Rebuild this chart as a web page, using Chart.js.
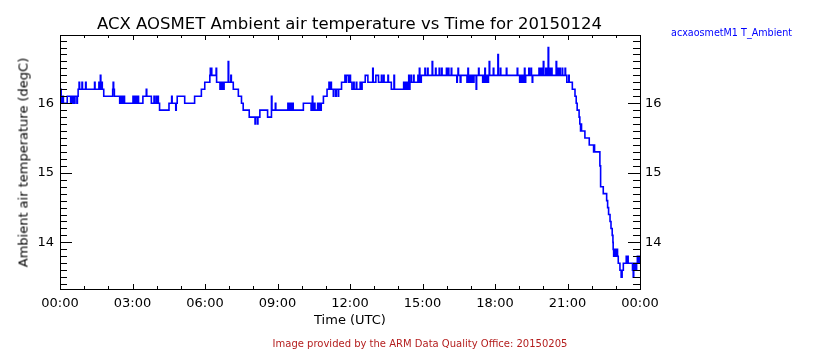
<!DOCTYPE html>
<html>
<head>
<meta charset="utf-8">
<title>ACX AOSMET Ambient air temperature vs Time for 20150124</title>
<script src="https://cdn.jsdelivr.net/npm/chart.js@4.4.1/dist/chart.umd.min.js"></script>
<style>
  body { margin: 0; background: #fff; }
  #wrap { position: relative; width: 840px; height: 350px; font-family: 'DejaVu Sans', sans-serif; }
  #wrap .txt { position: absolute; white-space: nowrap; line-height: 1; }
  #title { left: 0; width: 699px; top: 16px; text-align: center; font-size: 16.5px; color: #000; }
  #series { left: 671px; top: 27.5px; font-size: 9.6px; color: #0000ff; }
  #xtitle { left: 0; width: 700px; top: 312.5px; text-align: center; font-size: 13px; color: #000; }
  #ytitle { left: -87.5px; top: 155.5px; width: 220px; height: 13px; text-align: center; font-size: 13px; color: #000; transform: rotate(-90deg); }
  #footer { left: 0; width: 840px; top: 338.5px; text-align: center; font-size: 10px; color: #b41e1e; }
</style>
</head>
<body>
<div id="wrap">
  <canvas id="chart" width="840" height="350"></canvas>
  <div class="txt" id="title">ACX AOSMET Ambient air temperature vs Time for 20150124</div>
  <div class="txt" id="series">acxaosmetM1 T_Ambient</div>
  <div class="txt" id="xtitle">Time (UTC)</div>
  <div class="txt" id="ytitle">Ambient air temperature (degC)</div>
  <div class="txt" id="footer">Image provided by the ARM Data Quality Office: 20150205</div>
</div>
<script>
// Axis ticks and labels
const hourTicks = [0, 3, 6, 9, 12, 15, 18, 21, 24];
const hourLabels = ['00:00', '03:00', '06:00', '09:00', '12:00', '15:00', '18:00', '21:00', '00:00'];
const tempTicks = [14, 15, 16];
const yMin = 13.33;
const yMax = 16.98;

// T_Ambient, [hour UTC, degC] at each change of the stepped trace
const night = [
  [0.00, 16.2], [0.05, 16.1], [0.07, 16.0], [0.12, 16.1], [0.14, 16.0], [0.30, 16.1], [0.44, 16.0], [0.46, 16.1],
  [0.48, 16.0], [0.50, 16.1], [0.52, 16.0], [0.54, 16.1], [0.56, 16.0], [0.58, 16.1], [0.60, 16.0], [0.62, 16.1],
  [0.70, 16.0], [0.72, 16.1], [0.75, 16.2], [0.79, 16.3], [0.81, 16.2], [0.91, 16.3], [0.93, 16.2], [1.06, 16.3],
  [1.08, 16.2], [1.43, 16.3], [1.45, 16.2], [1.61, 16.3], [1.63, 16.2], [1.65, 16.3], [1.67, 16.4], [1.69, 16.3],
  [1.71, 16.2], [1.73, 16.3], [1.75, 16.2], [1.81, 16.1], [2.18, 16.2], [2.20, 16.3], [2.22, 16.2], [2.25, 16.1],
  [2.47, 16.0], [2.50, 16.1], [2.52, 16.0], [2.55, 16.1], [2.57, 16.0], [2.60, 16.1], [2.62, 16.0], [2.65, 16.1],
  [2.67, 16.0], [3.02, 16.1], [3.04, 16.0], [3.07, 16.1], [3.09, 16.0], [3.12, 16.1], [3.14, 16.0], [3.18, 16.1],
  [3.20, 16.0], [3.23, 16.1], [3.25, 16.0], [3.43, 16.1], [3.57, 16.2], [3.59, 16.1], [3.78, 16.0], [3.89, 16.1],
  [3.91, 16.0], [3.98, 16.1], [4.00, 16.0], [4.05, 16.1], [4.07, 16.0], [4.12, 15.9], [4.51, 16.0], [4.62, 16.1],
  [4.64, 16.0], [4.79, 15.9], [4.81, 16.0], [4.85, 16.1], [5.16, 16.0], [5.57, 16.1], [5.85, 16.2], [5.99, 16.3]
];

const morning = [
  [6.20, 16.4], [6.22, 16.5], [6.24, 16.4], [6.26, 16.5], [6.28, 16.4], [6.46, 16.5], [6.48, 16.3], [6.62, 16.2],
  [6.64, 16.3], [6.66, 16.2], [6.69, 16.3], [6.71, 16.2], [6.74, 16.3], [6.76, 16.2], [6.79, 16.3], [6.96, 16.6],
  [6.98, 16.3], [7.07, 16.4], [7.09, 16.3], [7.17, 16.2], [7.38, 16.1], [7.51, 16.0], [7.58, 15.9], [7.83, 15.8],
  [8.07, 15.7], [8.09, 15.8], [8.17, 15.7], [8.19, 15.8], [8.27, 15.9], [8.59, 15.8], [8.75, 16.1], [8.77, 15.9],
  [8.91, 16.0], [8.93, 15.9], [9.43, 16.0], [9.45, 15.9], [9.47, 16.0], [9.50, 15.9], [9.52, 16.0], [9.55, 15.9],
  [9.57, 16.0], [9.60, 15.9], [9.62, 16.0], [9.65, 15.9], [10.07, 16.0], [10.39, 15.9], [10.44, 16.1], [10.46, 15.9],
  [10.52, 16.0], [10.55, 15.9], [10.66, 16.0], [10.68, 15.9], [10.71, 16.0], [10.73, 15.9], [10.76, 16.0], [10.78, 15.9],
  [10.81, 16.0], [10.90, 16.1], [11.05, 16.2], [11.13, 16.3], [11.15, 16.2], [11.21, 16.3], [11.23, 16.2], [11.31, 16.1],
  [11.33, 16.2], [11.41, 16.1], [11.43, 16.2], [11.51, 16.1], [11.53, 16.2], [11.65, 16.3], [11.79, 16.4], [11.84, 16.3],
  [11.86, 16.4], [11.95, 16.3], [11.97, 16.4], [12.02, 16.3]
];

const afternoon = [
  [12.08, 16.2], [12.15, 16.3], [12.17, 16.2], [12.26, 16.3], [12.28, 16.2], [12.42, 16.3], [12.44, 16.2], [12.50, 16.3],
  [12.63, 16.4], [12.74, 16.3], [12.94, 16.5], [12.96, 16.3], [13.07, 16.4], [13.18, 16.3], [13.30, 16.4], [13.32, 16.3],
  [13.39, 16.4], [13.41, 16.3], [13.57, 16.4], [13.59, 16.3], [13.71, 16.2], [13.82, 16.4], [13.84, 16.2], [14.22, 16.3],
  [14.25, 16.2], [14.28, 16.3], [14.31, 16.2], [14.34, 16.3], [14.37, 16.2], [14.40, 16.3], [14.43, 16.4], [14.45, 16.2],
  [14.48, 16.3], [14.52, 16.4], [14.54, 16.3], [14.63, 16.4], [14.65, 16.3], [14.81, 16.4], [14.83, 16.3], [14.85, 16.4],
  [14.87, 16.5], [14.89, 16.3], [14.91, 16.4], [14.93, 16.3], [14.95, 16.4], [15.10, 16.5], [15.12, 16.4], [15.21, 16.5],
  [15.23, 16.4], [15.40, 16.6], [15.42, 16.4], [15.54, 16.5], [15.56, 16.4], [15.69, 16.5], [15.71, 16.4], [15.79, 16.5],
  [15.81, 16.4], [15.99, 16.5], [16.01, 16.4], [16.07, 16.5], [16.09, 16.4], [16.19, 16.5], [16.21, 16.4], [16.42, 16.3],
  [16.44, 16.4], [16.47, 16.5], [16.49, 16.4], [16.56, 16.3], [16.59, 16.4], [16.84, 16.3], [16.86, 16.4], [16.88, 16.5],
  [16.90, 16.3], [16.93, 16.4], [16.95, 16.3], [16.98, 16.4], [17.00, 16.3], [17.03, 16.4], [17.05, 16.3], [17.08, 16.4],
  [17.10, 16.3], [17.13, 16.4], [17.22, 16.2], [17.24, 16.4], [17.32, 16.5], [17.34, 16.4], [17.49, 16.3], [17.51, 16.4],
  [17.53, 16.3], [17.56, 16.4], [17.58, 16.5], [17.60, 16.3], [17.63, 16.4], [17.65, 16.3], [17.68, 16.4], [17.70, 16.3],
  [17.73, 16.4], [17.76, 16.6], [17.78, 16.4], [17.93, 16.5], [17.95, 16.4]
];

const evening = [
  [18.12, 16.7], [18.14, 16.4], [18.22, 16.5], [18.24, 16.4], [18.47, 16.5], [18.49, 16.4], [18.92, 16.5], [18.94, 16.4],
  [19.02, 16.3], [19.05, 16.4], [19.08, 16.3], [19.12, 16.4], [19.14, 16.3], [19.18, 16.4], [19.20, 16.3], [19.22, 16.5],
  [19.24, 16.3], [19.27, 16.4], [19.40, 16.5], [19.42, 16.4], [19.49, 16.5], [19.51, 16.4], [19.54, 16.3], [19.56, 16.4],
  [19.82, 16.5], [19.84, 16.4], [19.86, 16.5], [19.88, 16.4], [19.90, 16.5], [19.92, 16.4], [19.94, 16.5], [19.96, 16.4],
  [20.00, 16.6], [20.02, 16.4], [20.10, 16.5], [20.12, 16.4], [20.14, 16.5], [20.16, 16.4], [20.18, 16.5], [20.20, 16.8],
  [20.22, 16.5], [20.24, 16.4], [20.26, 16.5], [20.28, 16.4], [20.30, 16.5], [20.32, 16.4], [20.34, 16.5], [20.36, 16.4],
  [20.53, 16.6], [20.55, 16.4], [20.61, 16.5], [20.63, 16.4], [20.68, 16.5], [20.70, 16.4], [20.78, 16.5], [20.80, 16.4],
  [20.90, 16.5], [20.92, 16.4], [20.97, 16.3], [21.05, 16.4], [21.07, 16.3], [21.20, 16.2], [21.31, 16.1], [21.36, 16.0],
  [21.40, 15.9], [21.48, 15.8], [21.51, 15.7], [21.54, 15.6], [21.56, 15.7], [21.58, 15.6], [21.72, 15.5], [21.90, 15.4],
  [22.08, 15.3], [22.10, 15.4], [22.12, 15.3], [22.34, 15.1], [22.37, 14.8], [22.48, 14.7], [22.62, 14.6], [22.66, 14.5],
  [22.70, 14.4], [22.76, 14.3], [22.80, 14.2], [22.85, 14.1], [22.88, 14.0], [22.89, 13.9], [22.91, 13.8], [22.93, 13.9],
  [22.95, 13.8], [22.97, 13.9], [22.99, 13.8], [23.01, 13.9], [23.03, 13.8], [23.05, 13.9], [23.07, 13.8], [23.10, 13.7],
  [23.17, 13.6], [23.22, 13.5], [23.26, 13.6], [23.31, 13.7], [23.43, 13.8], [23.45, 13.7], [23.47, 13.8], [23.51, 13.7],
  [23.69, 13.6], [23.72, 13.5], [23.74, 13.6], [23.75, 13.7], [23.78, 13.6], [23.80, 13.7], [23.84, 13.6], [23.86, 13.7],
  [23.89, 13.8], [23.92, 13.7], [23.95, 13.8], [23.98, 13.7], [24.00, 13.8]
];

const tempData = [...night, ...morning, ...afternoon, ...evening].map(([h, v]) => ({ x: h, y: v }));

// IDL style frame with inward ticks on all four sides
const frameTicks = {
  id: 'frameTicks',
  afterDraw(chart) {
    const { ctx, chartArea: a, scales } = chart;
    ctx.save();
    ctx.strokeStyle = '#000';
    ctx.lineWidth = 1;
    ctx.beginPath();
    for (let i = 134; i <= 169; i++) {
      const py = Math.round(scales.y.getPixelForValue(i / 10)) + 0.5;
      const len = i % 10 === 0 ? 12 : 7;
      ctx.moveTo(a.left, py); ctx.lineTo(a.left + len, py);
      ctx.moveTo(a.right, py); ctx.lineTo(a.right - len, py);
    }
    for (let h = 1; h < 24; h++) {
      const px = Math.round(scales.x.getPixelForValue(h)) + 0.5;
      const len = h % 3 === 0 ? 5 : 3;
      ctx.moveTo(px, a.bottom); ctx.lineTo(px, a.bottom - len);
      ctx.moveTo(px, a.top); ctx.lineTo(px, a.top + len);
    }
    ctx.stroke();
    ctx.strokeRect(a.left + 0.5, a.top + 0.5, a.right - a.left, a.bottom - a.top);
    ctx.restore();
  }
};

Chart.defaults.font.family = "'DejaVu Sans', sans-serif";
Chart.defaults.color = '#000';

const tickFont = { size: 13 };
const tempAxis = (position, width, padding) => ({
  type: 'linear',
  position: position,
  min: yMin,
  max: yMax,
  grid: { display: false, drawTicks: false },
  border: { display: false },
  afterBuildTicks: s => { s.ticks = tempTicks.map(v => ({ value: v })); },
  afterFit: s => { s.width = width; },
  ticks: { padding: padding, font: tickFont, color: '#000' }
});

new Chart(document.getElementById('chart'), {
  type: 'line',
  data: {
    datasets: [{
      label: 'acxaosmetM1 T_Ambient',
      data: tempData,
      borderColor: '#0000ff',
      borderWidth: 1.6,
      pointRadius: 0,
      stepped: true,
      fill: false
    }]
  },
  options: {
    responsive: false,
    animation: false,
    devicePixelRatio: 1,
    layout: { padding: { top: 35 } },
    plugins: {
      legend: { display: false },
      tooltip: { enabled: false }
    },
    scales: {
      x: {
        type: 'linear',
        min: 0,
        max: 24,
        grid: { display: false, drawTicks: false },
        border: { display: false },
        afterBuildTicks: s => { s.ticks = hourTicks.map(v => ({ value: v })); },
        afterFit: s => { s.height = 61; },
        ticks: {
          padding: 7,
          font: tickFont,
          color: '#000',
          maxRotation: 0,
          autoSkip: false,
          callback: (value, index) => hourLabels[index]
        }
      },
      y: tempAxis('left', 60, 6),
      y2: tempAxis('right', 200, 5)
    }
  },
  plugins: [frameTicks]
});
</script>
</body>
</html>
